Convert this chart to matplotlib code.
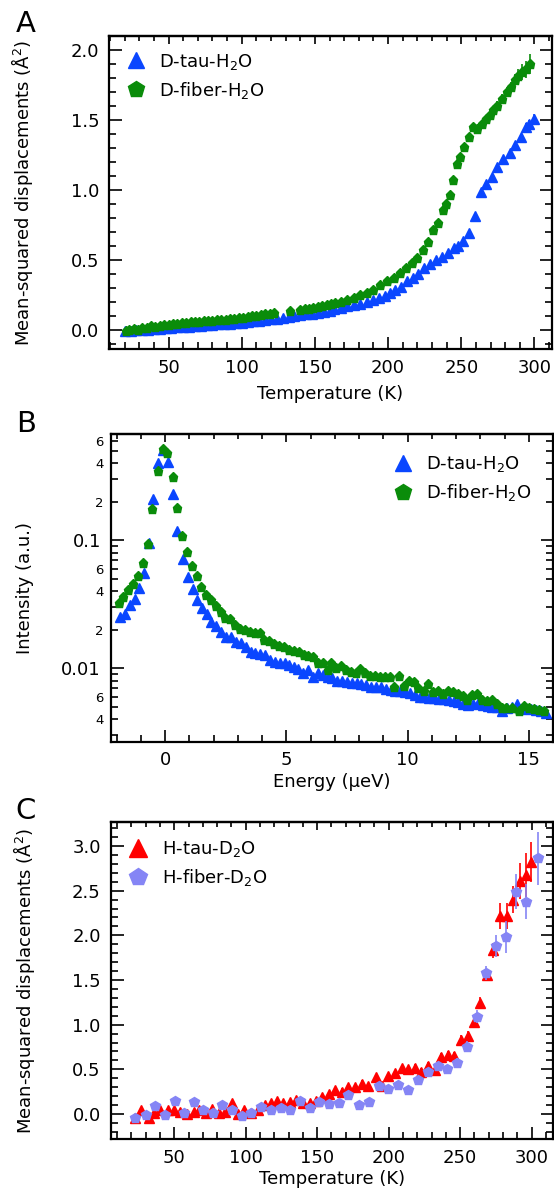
import numpy as np
import matplotlib
matplotlib.use("Agg")
import matplotlib.pyplot as plt
from matplotlib.ticker import MultipleLocator, FormatStrFormatter, FixedLocator, LogLocator, FuncFormatter, NullFormatter

plt.rcParams['font.family'] = ['DejaVu Sans']
plt.rcParams['mathtext.default'] = 'regular'

# ---- panel A: MSD, D-labelled samples in H2O ----
tauA_T = [20, 24, 28, 32, 36, 40, 44, 48, 52, 56,
          60, 64, 68, 72, 76, 80, 84, 88, 92, 96,
          100, 104, 108, 112, 116, 120, 124, 128, 132, 136,
          140, 144, 148, 152, 156, 160, 163, 167.5, 172, 176.4,
          181, 185.6, 190, 194.1, 198, 201.4, 204.8, 208.7, 212.8, 216.9,
          220.7, 224.6, 228.7, 232.8, 236.9, 240.6, 244.7, 248, 251.4, 255.5,
          259.2, 263.3, 266.9, 270.8, 274.2, 278.8, 283.3, 287, 290.6, 294,
          296.3, 299.7]
tauA_msd = [-0.01, -0.01, -0.005, -0.002, 0.0, 0.004, 0.008, 0.011, 0.014, 0.017,
            0.019, 0.022, 0.025, 0.028, 0.031, 0.034, 0.037, 0.040, 0.044, 0.048,
            0.051, 0.055, 0.059, 0.063, 0.068, 0.073, 0.079, 0.085, 0.091, 0.097,
            0.103, 0.109, 0.115, 0.121, 0.128, 0.136, 0.145, 0.155, 0.166, 0.176,
            0.185, 0.200, 0.210, 0.223, 0.237, 0.260, 0.285, 0.308, 0.344, 0.368,
            0.400, 0.440, 0.470, 0.498, 0.520, 0.550, 0.580, 0.598, 0.636, 0.688,
            0.814, 0.980, 1.037, 1.090, 1.162, 1.220, 1.262, 1.317, 1.376, 1.450,
            1.470, 1.507]
tauA_err = [0.004, 0.004, 0.004, 0.004, 0.004, 0.004, 0.004, 0.004, 0.004, 0.004,
            0.004, 0.004, 0.004, 0.004, 0.004, 0.004, 0.004, 0.004, 0.004, 0.004,
            0.004, 0.004, 0.004, 0.004, 0.004, 0.004, 0.004, 0.004, 0.004, 0.004,
            0.004, 0.004, 0.004, 0.004, 0.004, 0.004, 0.004, 0.004, 0.004, 0.004,
            0.005, 0.005, 0.005, 0.005, 0.005, 0.005, 0.005, 0.005, 0.006, 0.006,
            0.006, 0.006, 0.007, 0.007, 0.007, 0.008, 0.008, 0.008, 0.009, 0.009,
            0.010, 0.012, 0.012, 0.014, 0.015, 0.016, 0.018, 0.020, 0.022, 0.025,
            0.028, 0.030]

fibA_T = [20.7, 23, 26.3, 29, 32, 35, 37.7, 41, 44, 47,
          50, 53, 56, 59, 62, 65, 68, 71, 74, 77,
          80, 83, 86, 89, 92, 95, 98, 101, 104, 107,
          110, 113, 116, 119, 122, 133.2, 140, 143, 146, 149,
          152, 155, 158, 161, 164, 167.5, 172, 176.4, 181, 185.5,
          190, 194.6, 199.2, 203.7, 208.3, 212.3, 216.2, 220, 223.7, 227.6,
          231, 234.4, 237.4, 239.6, 242.4, 244.6, 246.9, 249.2, 251.9, 255.5,
          258.3, 260.6, 264, 267, 269.6, 272, 274.2, 277.6, 281, 284.3,
          286.7, 289, 291.3, 294, 297]
fibA_msd = [-0.007, 0.0, 0.005, -0.005, 0.010, 0.015, 0.024, 0.022, 0.028, 0.032,
            0.036, 0.038, 0.042, 0.046, 0.048, 0.052, 0.055, 0.058, 0.061, 0.064,
            0.065, 0.067, 0.070, 0.072, 0.075, 0.078, 0.082, 0.086, 0.090, 0.095,
            0.100, 0.105, 0.110, 0.115, 0.120, 0.130, 0.138, 0.145, 0.150, 0.158,
            0.165, 0.170, 0.178, 0.183, 0.187, 0.196, 0.210, 0.225, 0.245, 0.260,
            0.285, 0.320, 0.344, 0.368, 0.403, 0.440, 0.474, 0.510, 0.569, 0.628,
            0.712, 0.760, 0.854, 0.900, 0.960, 1.068, 1.186, 1.233, 1.305, 1.376,
            1.450, 1.435, 1.470, 1.505, 1.530, 1.570, 1.600, 1.650, 1.697, 1.730,
            1.780, 1.810, 1.840, 1.860, 1.898]
fibA_err = [0.005, 0.005, 0.005, 0.005, 0.005, 0.005, 0.005, 0.005, 0.005, 0.005,
            0.005, 0.005, 0.005, 0.005, 0.005, 0.005, 0.005, 0.005, 0.005, 0.005,
            0.005, 0.005, 0.005, 0.005, 0.005, 0.005, 0.005, 0.005, 0.005, 0.005,
            0.005, 0.005, 0.005, 0.005, 0.005, 0.005, 0.005, 0.005, 0.005, 0.005,
            0.005, 0.005, 0.005, 0.005, 0.005, 0.006, 0.006, 0.006, 0.006, 0.007,
            0.007, 0.007, 0.008, 0.008, 0.008, 0.009, 0.009, 0.010, 0.010, 0.011,
            0.012, 0.012, 0.013, 0.014, 0.015, 0.016, 0.017, 0.018, 0.019, 0.020,
            0.022, 0.022, 0.024, 0.025, 0.027, 0.030, 0.032, 0.035, 0.038, 0.042,
            0.045, 0.050, 0.055, 0.060, 0.070]

# ---- panel B: quasielastic spectra ----
tauB_E = [-1.86, -1.67, -1.45, -1.26, -1.07, -0.85, -0.67, -0.48, -0.28, -0.10,
          0.13, 0.34, 0.51, 0.73, 0.93, 1.14, 1.33, 1.52, 1.72, 1.91,
          2.10, 2.31, 2.52, 2.71, 2.93, 3.12, 3.33, 3.53, 3.73, 3.92,
          4.13, 4.34, 4.53, 4.74, 4.93, 5.13, 5.30, 5.5, 5.7, 5.9,
          6.1, 6.3, 6.5, 6.7, 6.9, 7.1, 7.3, 7.5, 7.7, 7.9,
          8.1, 8.3, 8.5, 8.7, 8.9, 9.1, 9.3, 9.5, 9.7, 9.9,
          10.1, 10.3, 10.5, 10.7, 10.9, 11.1, 11.3, 11.5, 11.7, 11.9,
          12.1, 12.3, 12.5, 12.7, 12.9, 13.1, 13.3, 13.5, 13.7, 13.9,
          14.1, 14.3, 14.5, 14.7, 14.9, 15.1, 15.3, 15.5, 15.7]
tauB_I = [0.0252, 0.0266, 0.0313, 0.0351, 0.0423, 0.0558, 0.096, 0.210, 0.402, 0.511,
          0.411, 0.230, 0.118, 0.071, 0.0519, 0.0418, 0.0344, 0.0298, 0.0266, 0.0232,
          0.0216, 0.0191, 0.0176, 0.0176, 0.0162, 0.0158, 0.0148, 0.0135, 0.0131, 0.0129,
          0.0127, 0.0117, 0.0112, 0.0111, 0.0111, 0.0106, 0.0102, 0.0098, 0.0092, 0.0097,
          0.0085, 0.0092, 0.0089, 0.0085, 0.0084, 0.0080, 0.0079, 0.0078, 0.0077, 0.0077,
          0.0076, 0.0074, 0.0072, 0.0071, 0.0071, 0.0069, 0.0068, 0.0067, 0.0066, 0.0065,
          0.0064, 0.0062, 0.0060, 0.0060, 0.0059, 0.0059, 0.0058, 0.0058, 0.0057, 0.0056,
          0.0055, 0.0053, 0.0052, 0.0053, 0.0054, 0.0052, 0.0051, 0.0050, 0.0050, 0.0046,
          0.0049, 0.0050, 0.0053, 0.0048, 0.0049, 0.0048, 0.0047, 0.0046, 0.0045]

fibB_E = [-1.92, -1.72, -1.52, -1.32, -1.12, -0.92, -0.71, -0.52, -0.30, -0.09,
          0.10, 0.31, 0.51, 0.70, 0.92, 1.10, 1.30, 1.50, 1.70, 1.90,
          2.09, 2.31, 2.48, 2.69, 2.88, 3.08, 3.28, 3.49, 3.69, 3.92,
          4.10, 4.30, 4.50, 4.70, 4.92, 5.11, 5.31, 5.52, 5.72, 5.90,
          6.10, 6.30, 6.50, 6.70, 6.85, 7.05, 7.25, 7.45, 7.65, 7.87,
          8.05, 8.26, 8.45, 8.66, 8.87, 9.06, 9.26, 9.44, 9.65, 9.85,
          10.05, 10.25, 10.45, 10.66, 10.84, 11.04, 11.25, 11.45, 11.66, 11.86,
          12.07, 12.27, 12.45, 12.65, 12.86, 13.06, 13.26, 13.47, 13.67, 13.88,
          14.08, 14.29, 14.61, 14.80, 15.00, 15.21, 15.41, 15.62]
fibB_I = [0.0324, 0.0359, 0.0413, 0.0460, 0.0531, 0.0668, 0.093, 0.177, 0.349, 0.517,
          0.481, 0.314, 0.179, 0.109, 0.0815, 0.0629, 0.0531, 0.0433, 0.0377, 0.0340,
          0.0309, 0.0276, 0.0248, 0.0245, 0.0219, 0.0203, 0.0198, 0.0191, 0.0190, 0.0190,
          0.0167, 0.0163, 0.0156, 0.0150, 0.0146, 0.0138, 0.0136, 0.0134, 0.0128, 0.0126,
          0.0122, 0.0110, 0.0111, 0.0097, 0.0111, 0.0101, 0.0105, 0.0097, 0.0094, 0.0092,
          0.0098, 0.0092, 0.0087, 0.0087, 0.0085, 0.0085, 0.0086, 0.0072, 0.0087, 0.0073,
          0.0079, 0.0078, 0.0070, 0.0066, 0.0076, 0.0065, 0.0066, 0.0063, 0.0066, 0.0065,
          0.0063, 0.0061, 0.0057, 0.0062, 0.0063, 0.0057, 0.0056, 0.0057, 0.0053, 0.0049,
          0.0049, 0.0049, 0.0046, 0.0051, 0.0049, 0.0048, 0.0047, 0.0046]

# ---- panel C: MSD, H-labelled samples in D2O ----
tauC_T = [22.8, 27, 32, 36.1, 40.3, 45.5, 50, 54.2, 59.2, 63.6,
          67.2, 72.2, 76.5, 81, 85.4, 90.1, 94.4, 98.8, 103.8, 108.7,
          113.2, 117.6, 121.8, 126.1, 131, 135.5, 140, 144.7, 149.2, 153.7,
          158.2, 162.7, 167.2, 171.9, 176.8, 181.1, 185.6, 190.9, 195.4, 199.9,
          204.6, 209.1, 213.6, 218.3, 222.8, 227.8, 232.3, 236.4, 241.4, 245.6,
          250.3, 255.3, 259.7, 264.1, 269, 273.3, 277.7, 282.7, 286.9, 291.8,
          296.3, 299.3]
tauC_msd = [-0.05, 0.05, -0.05, 0.015, 0.05, 0.04, 0.05, 0.025, 0.0, 0.02,
            0.05, 0.015, 0.06, 0.015, 0.025, 0.12, 0.0, 0.04, 0.015, 0.04,
            0.10, 0.12, 0.15, 0.12, 0.135, 0.16, 0.12, 0.12, 0.15, 0.19,
            0.22, 0.27, 0.25, 0.30, 0.30, 0.335, 0.31, 0.41, 0.31, 0.42,
            0.455, 0.51, 0.50, 0.52, 0.475, 0.535, 0.49, 0.635, 0.66, 0.645,
            0.83, 0.87, 1.033, 1.246, 1.556, 1.83, 2.216, 2.216, 2.40, 2.61,
            2.675, 2.82]
tauC_err = [0.03, 0.03, 0.03, 0.03, 0.03, 0.03, 0.03, 0.03, 0.03, 0.03,
            0.03, 0.03, 0.03, 0.03, 0.03, 0.03, 0.03, 0.03, 0.03, 0.03,
            0.03, 0.03, 0.03, 0.03, 0.03, 0.03, 0.03, 0.03, 0.03, 0.03,
            0.03, 0.03, 0.04, 0.04, 0.04, 0.04, 0.04, 0.04, 0.04, 0.04,
            0.04, 0.04, 0.04, 0.04, 0.04, 0.05, 0.05, 0.05, 0.05, 0.05,
            0.05, 0.06, 0.06, 0.06, 0.07, 0.08, 0.15, 0.15, 0.15, 0.20,
            0.25, 0.22]

fibC_T = [22.8, 29.9, 36.8, 43.6, 50.2, 57, 63.6, 70.3, 77, 83.4,
          90.1, 97.2, 103.8, 110.7, 117.6, 124.4, 131, 138, 145, 151.6,
          158.2, 165.2, 171.9, 179.3, 186.1, 193, 199.7, 206.6, 213.6, 220.3,
          227.3, 234.2, 241, 248, 254.8, 261.5, 268.4, 275.3, 282, 289.4,
          296.1, 304.2]
fibC_msd = [-0.04, -0.015, 0.09, -0.015, 0.15, 0.015, 0.13, 0.04, 0.015, 0.10,
            0.04, -0.02, 0.01, 0.075, 0.05, 0.065, 0.04, 0.15, 0.07, 0.13,
            0.11, 0.12, 0.21, 0.10, 0.13, 0.31, 0.28, 0.325, 0.27, 0.375,
            0.465, 0.535, 0.50, 0.575, 0.753, 1.09, 1.582, 1.88, 1.985, 2.49,
            2.377, 2.862]
fibC_err = [0.03, 0.03, 0.03, 0.03, 0.03, 0.03, 0.03, 0.03, 0.03, 0.03,
            0.03, 0.03, 0.03, 0.03, 0.03, 0.03, 0.03, 0.03, 0.03, 0.03,
            0.04, 0.04, 0.04, 0.04, 0.04, 0.04, 0.04, 0.04, 0.04, 0.05,
            0.05, 0.05, 0.05, 0.05, 0.06, 0.07, 0.08, 0.12, 0.18, 0.20,
            0.20, 0.30]

BLUE = '#0a46ff'
GREEN = '#0a8c0a'
RED = '#ff0000'
LAV = '#8585f5'

W, H = 554, 1189
fig = plt.figure(figsize=(W / 100, H / 100), dpi=100)


def box(l, t, r, b):
    return [l / W, 1 - b / H, (r - l) / W, (b - t) / H]


def style(ax, major, minor):
    for s in ax.spines.values():
        s.set_linewidth(1.6)
    ax.tick_params(which='both', direction='in', top=False, right=True,
                   width=1.2, labelsize=13, pad=7)
    ax.tick_params(which='major', length=9)
    ax.tick_params(which='minor', length=5)
    # shorter ticks along the top edge
    top = ax.secondary_xaxis('top')
    top.xaxis.set_major_locator(MultipleLocator(major))
    top.xaxis.set_minor_locator(MultipleLocator(minor))
    top.xaxis.set_major_formatter(NullFormatter())
    top.tick_params(which='both', direction='in', width=1.2)
    top.tick_params(which='major', length=6)
    top.tick_params(which='minor', length=3.5)
    top.spines['top'].set_linewidth(1.6)


def series(ax, x, y, err, color, marker, ms, label):
    ax.errorbar(x, y, yerr=err, fmt='none', ecolor=color, elinewidth=1.2, capsize=0)
    ax.plot(x, y, ls='none', marker=marker, ms=ms, color=color, mec=color, label=label)


def legend(ax, x0, y0):
    ax.legend(loc='upper left', bbox_to_anchor=(x0, y0), frameon=False, fontsize=13,
              handlelength=1.0, handletextpad=0.8, labelspacing=0.45,
              borderpad=0, borderaxespad=0, markerscale=1.8, numpoints=1)


ylab_msd = 'Mean-squared displacements (Å$^{2}$)'

# Panel A
axA = fig.add_axes(box(109, 36, 552, 349))
series(axA, tauA_T, tauA_msd, tauA_err, BLUE, '^', 6.5, 'D-tau-H$_2$O')
series(axA, fibA_T, fibA_msd, fibA_err, GREEN, 'p', 6.8, 'D-fiber-H$_2$O')
axA.set_xlim(9.3, 312)
axA.set_ylim(-0.138, 2.097)
axA.xaxis.set_major_locator(MultipleLocator(50))
axA.xaxis.set_minor_locator(MultipleLocator(10))
axA.yaxis.set_major_locator(MultipleLocator(0.5))
axA.yaxis.set_minor_locator(MultipleLocator(0.1))
axA.yaxis.set_major_formatter(FormatStrFormatter('%.1f'))
style(axA, 50, 10)
axA.set_xlabel('Temperature (K)', fontsize=13)
axA.set_ylabel(ylab_msd, fontsize=13)
axA.xaxis.set_label_coords(0.5, -0.115)
axA.yaxis.set_label_coords(-0.167, 0.5)
legend(axA, 0.04, 0.95)

# Panel B
axB = fig.add_axes(box(110.5, 434, 553, 741.7))
series(axB, tauB_E, tauB_I, None, BLUE, '^', 6.5, 'D-tau-H$_2$O')
series(axB, fibB_E, fibB_I, None, GREEN, 'p', 6.8, 'D-fiber-H$_2$O')
axB.set_yscale('log')
axB.set_xlim(-2.25, 16.0)
axB.set_ylim(0.00267, 0.68)
axB.xaxis.set_major_locator(MultipleLocator(5))
axB.xaxis.set_minor_locator(MultipleLocator(1))
axB.yaxis.set_major_locator(FixedLocator([0.01, 0.1]))
axB.yaxis.set_major_formatter(FuncFormatter(lambda v, p: '%g' % v))
axB.yaxis.set_minor_locator(LogLocator(base=10, subs=np.arange(2, 10), numticks=20))


def minor_fmt(v, p):
    lead = int(round(v / 10 ** np.floor(np.log10(v) + 1e-9)))
    return str(lead) if lead in (2, 4, 6) else ''


axB.yaxis.set_minor_formatter(FuncFormatter(minor_fmt))
style(axB, 5, 1)
axB.tick_params(axis='y', which='minor', labelsize=9.5, pad=5)
axB.set_xlabel('Energy (μeV)', fontsize=13)
axB.set_ylabel('Intensity (a.u.)', fontsize=13)
axB.xaxis.set_label_coords(0.5, -0.102)
axB.yaxis.set_label_coords(-0.173, 0.5)
legend(axB, 0.64, 0.935)

# Panel C
axC = fig.add_axes(box(110.5, 822.3, 553, 1139))
series(axC, tauC_T, tauC_msd, tauC_err, RED, '^', 7, 'H-tau-D$_2$O')
series(axC, fibC_T, fibC_msd, fibC_err, LAV, 'p', 7.2, 'H-fiber-D$_2$O')
axC.set_xlim(5.4, 315)
axC.set_ylim(-0.28, 3.265)
axC.xaxis.set_major_locator(MultipleLocator(50))
axC.xaxis.set_minor_locator(MultipleLocator(10))
axC.yaxis.set_major_locator(MultipleLocator(0.5))
axC.yaxis.set_minor_locator(MultipleLocator(0.1))
axC.yaxis.set_major_formatter(FormatStrFormatter('%.1f'))
style(axC, 50, 10)
axC.set_xlabel('Temperature (K)', fontsize=13)
axC.set_ylabel(ylab_msd, fontsize=13)
axC.xaxis.set_label_coords(0.5, -0.098)
axC.yaxis.set_label_coords(-0.167, 0.5)
legend(axC, 0.042, 0.947)

for letter, yy in (('A', 24), ('B', 424), ('C', 811)):
    fig.text(26 / W, 1 - yy / H, letter, fontsize=21, ha='center', va='center')

fig.savefig('out.png', dpi=100)
